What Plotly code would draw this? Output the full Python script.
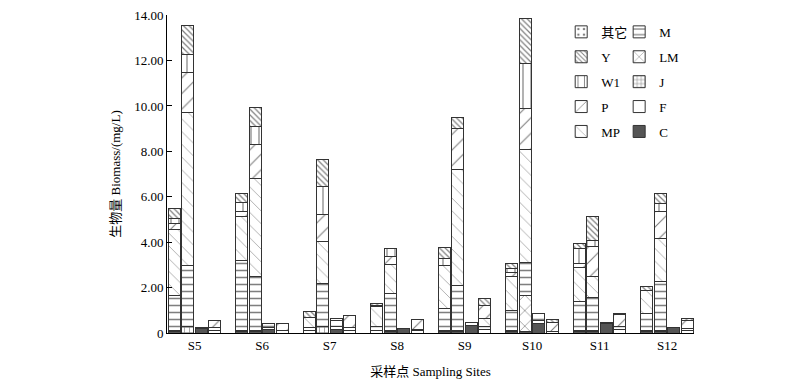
import plotly.graph_objects as go

sites = ["S5", "S6", "S7", "S8", "S9", "S10", "S11", "S12"]
# four bars per site (a, b, c, d); values in mg/L, listed site by site
C  = [0.05, 0, 0.20, 0,   0.05, 0.05, 0.15, 0,   0, 0, 0.15, 0,   0, 0.05, 0.18, 0,
      0.05, 0.05, 0.35, 0, 0.05, 0.06, 0.42, 0,  0.05, 0.05, 0.40, 0,  0.05, 0.05, 0.23, 0]
F  = [0.05, 0, 0.03, 0.10,  0.08, 0.08, 0.10, 0.10,  0.10, 0, 0.15, 0.12,  0.12, 0.08, 0, 0.10,
      0.08, 0.08, 0, 0.15,  0.08, 0, 0.12, 0.05,  0.08, 0.08, 0, 0.15,  0.08, 0.08, 0, 0.10]
J  = [0, 0.30, 0, 0,  0, 0, 0, 0,  0, 0.28, 0, 0,  0, 0, 0, 0,
      0, 0, 0, 0,  0, 0, 0, 0,  0, 0, 0, 0,  0, 0, 0, 0]
LM = [0, 0, 0, 0,  0, 0, 0, 0,  0, 0, 0, 0,  0, 0, 0, 0,
      0, 0, 0, 0,  0, 1.58, 0, 0,  0, 0, 0, 0,  0, 0, 0, 0]
M  = [1.57, 2.69, 0, 0.15,  3.08, 2.34, 0.18, 0,  0.15, 1.91, 0.25, 0.12,  0.15, 1.59, 0, 0.05,
      0.96, 1.98, 0.12, 0.15,  0.88, 1.47, 0.30, 0,  1.25, 1.44, 0.07, 0.12,  0.74, 2.13, 0, 0.08]
MP = [2.87, 6.70, 0, 0,  1.94, 4.35, 0, 0,  0.45, 1.83, 0, 0,  0.88, 1.28, 0, 0,
      1.90, 5.07, 0, 0.35,  1.47, 4.95, 0, 0,  1.51, 0.91, 0, 0,  0.99, 1.91, 0, 0]
P  = [0.30, 1.80, 0, 0.32,  0.18, 1.50, 0, 0.33,  0, 1.22, 0.10, 0.52,  0, 0.39, 0, 0.44,
      0, 1.83, 0, 0.58,  0.18, 1.83, 0, 0.42,  0.18, 1.32, 0, 0.55,  0, 1.17, 0, 0.37]
W1 = [0.22, 0.79, 0, 0,  0.40, 0.79, 0, 0,  0, 1.20, 0, 0,  0.08, 0.31, 0, 0,
      0.30, 0, 0, 0,  0.19, 1.99, 0, 0,  0.66, 0.29, 0, 0,  0, 0.37, 0, 0]
Y  = [0.44, 1.28, 0, 0,  0.43, 0.84, 0, 0,  0.24, 1.22, 0, 0,  0.05, 0, 0, 0,
      0.48, 0.49, 0, 0.27,  0.19, 1.95, 0, 0.13,  0.19, 1.03, 0, 0.05,  0.18, 0.44, 0, 0.10]
QT = [0] * 32   # 其它

y_ticks = [0, 2, 4, 6, 8, 10, 12, 14]
y_tick_text = ["0", "2.00", "4.00", "6.00", "8.00", "10.00", "12.00", "14.00"]

offsets = [-0.3, -0.1, 0.1, 0.3]
xs = [i + o for i in range(len(sites)) for o in offsets]

FONT = "Liberation Serif, 'Noto Sans CJK SC', serif"

# stack order bottom -> top ; (name, values, marker, legend, rank)
series = [
    ("C", C, dict(color="#555555"), "legend2", 5),
    ("F", F, dict(color="white"), "legend2", 4),
    ("J", J, dict(color="white", pattern=dict(shape="+", size=5, solidity=0.25, fgcolor="black")), "legend2", 3),
    ("LM", LM, dict(color="white", pattern=dict(shape="x", size=11, solidity=0.12, fgcolor="black")), "legend2", 2),
    ("M", M, dict(color="white", pattern=dict(shape="-", size=7, solidity=0.22, fgcolor="black")), "legend2", 1),
    ("MP", MP, dict(color="white", pattern=dict(shape="\\", size=9, solidity=0.1, fgcolor="#555555")), "legend", 5),
    ("P", P, dict(color="white", pattern=dict(shape="/", size=11, solidity=0.1, fgcolor="black")), "legend", 4),
    ("W1", W1, dict(color="white", pattern=dict(shape="|", size=8, solidity=0.15, fgcolor="black")), "legend", 3),
    ("Y", Y, dict(color="white", pattern=dict(shape="\\", size=4, solidity=0.3, fgcolor="black")), "legend", 2),
    ("其它", QT, dict(color="white", pattern=dict(shape=".", size=7, solidity=0.15, fgcolor="black")), "legend", 1),
]

fig = go.Figure()
for name, vals, mk, lg, rank in series:
    yv = [v if v > 0 else None for v in vals]
    mk = dict(mk)
    mk["line"] = dict(color="#333333", width=1)
    fig.add_trace(go.Bar(
        x=xs, y=yv, name=name, width=0.18, marker=mk,
        legend=lg, legendgroup=name, legendrank=rank, showlegend=True,
    ))

legend_common = dict(
    bgcolor="rgba(0,0,0,0)", font=dict(family=FONT, size=13, color="black"),
    traceorder="grouped", tracegroupgap=5, yanchor="top", xanchor="left",
)

# page body has an 8px default margin, so the figure is 8px smaller and shifted
fig.update_layout(
    barmode="stack",
    width=792, height=378,
    margin=dict(l=159, r=106, t=7, b=53, autoexpand=False),
    paper_bgcolor="white", plot_bgcolor="white",
    font=dict(family=FONT, size=13, color="black"),
    legend=dict(x=0.748, y=0.994, **legend_common),
    legend2=dict(x=0.858, y=0.994, **legend_common),
    xaxis=dict(
        range=[-0.41, 7.40], tickvals=list(range(len(sites))), ticktext=sites,
        showline=True, linecolor="black", linewidth=1, ticks="", showgrid=False,
        zeroline=False, automargin=False,
        title=dict(text="采样点 Sampling Sites", font=dict(family=FONT, size=13), standoff=15),
    ),
    yaxis=dict(
        range=[0, 14.005], tickvals=y_ticks, ticktext=y_tick_text,
        showline=True, linecolor="black", linewidth=1, ticks="inside", ticklen=5,
        tickcolor="black", showgrid=False, zeroline=False, automargin=False,
        ticklabeloverflow="allow",
        title=dict(text="生物量 Biomass/(mg/L)", font=dict(family=FONT, size=13), standoff=10),
    ),
)

fig.write_html("out.html")
